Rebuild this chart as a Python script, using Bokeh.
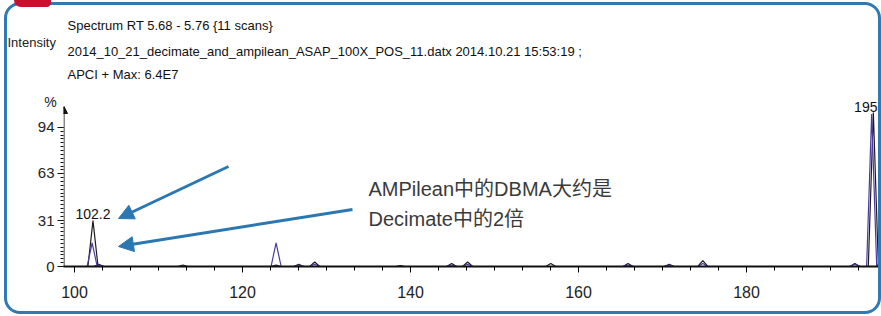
from bokeh.plotting import figure
from bokeh.models import (Label, Arrow, NormalHead, Range1d,
                          SingleIntervalTicker, FixedTicker)
from bokeh.embed import file_html
from bokeh.resources import INLINE

# ---------------- data ----------------
# AMPilean trace (black)
amp_mz = [102.2, 102.9, 112.9, 124.0, 126.7, 128.6, 138.8, 144.9, 146.8, 156.7, 165.9, 170.8, 174.8, 192.9, 195.1]
amp_int = [31.0, 1.5, 1.0, 1.0, 1.5, 3.0, 0.6, 2.0, 3.0, 2.0, 2.0, 1.5, 4.0, 2.0, 104.0]
# Decimate trace (purple)
dec_mz = [102.1, 102.9, 124.0, 126.7, 128.6, 144.9, 146.8, 165.9, 170.8, 174.8, 192.9, 194.9, 196.2]
dec_int = [16.0, 1.0, 16.0, 1.0, 1.5, 1.0, 1.5, 1.0, 1.0, 2.0, 1.5, 103.0, 12.0]
# labelled peaks
lab_mz = [102.2, 195.1]
lab_int = [31.0, 104.0]
lab_txt = ["102.2", "195."]
# y tick labels
y_ticks = [0, 31, 63, 94]

header = ["Spectrum RT 5.68 - 5.76 {11 scans}",
          "2014_10_21_decimate_and_ampilean_ASAP_100X_POS_11.datx 2014.10.21 15:53:19 ;",
          "APCI + Max: 6.4E7"]
note = ["AMPilean中的DBMA大约是", "Decimate中的2倍"]

# ---------------- layout helpers ----------------
FL, FT, FB = 63, 92, 266          # frame left / top / bottom in page px
def X2v(X):
    return 100 + (X - 74) / 8.4

def Y2p(Y):
    return (FB - Y) / 1.48

SANS = "Liberation Sans, Arial, sans-serif"
CJK = "Liberation Sans, Arial, Noto Sans CJK SC, sans-serif"
INK = "#111111"

x0, x1 = X2v(FL), X2v(881)
p = figure(width=881, height=316, output_backend="svg", toolbar_location=None,
           x_range=Range1d(x0, x1), y_range=Range1d(0, Y2p(FT)),
           min_border_left=FL, min_border_right=0, min_border_top=FT, min_border_bottom=316 - FB)
p.grid.visible = False
p.outline_line_color = None
p.background_fill_color = "white"
p.border_fill_color = "white"
p.stylesheets = ["""
:host::after { content: ""; position: absolute; left: 4px; top: 2px; width: 877px; height: 312px;
  box-sizing: border-box; border: 3px solid #2f79b5; border-radius: 16px; pointer-events: none; }
:host::before { content: ""; position: absolute; left: 14px; top: 0px; width: 37px; height: 7px;
  background: #c8102e; border-radius: 0 0 6px 10px; z-index: 2; pointer-events: none; }
"""]

def profile(mz, inten, hw=0.6):
    xs, ys = [x0], [0]
    for m, h in sorted(zip(mz, inten)):
        xs += [m - hw, m, m + hw]
        ys += [0, h, 0]
    xs.append(x1)
    ys.append(0)
    return xs, ys

ax, ay = profile(amp_mz, amp_int)
dx, dy = profile(dec_mz, dec_int)
p.line(ax, ay, line_color="#1c1c1c", line_width=1.2)
p.line(dx, dy, line_color="#4a3aa0", line_width=1.2)

# axes
xa = p.xaxis[0]
xa.ticker = SingleIntervalTicker(interval=20, num_minor_ticks=6)
xa.axis_line_width = 2
xa.axis_line_color = INK
xa.major_tick_out = 6
xa.major_tick_in = 0
xa.minor_tick_out = 4
xa.minor_tick_in = 0
xa.major_label_standoff = 13
xa.major_label_text_font = SANS
xa.major_label_text_font_size = "16px"
xa.major_label_text_color = "#222222"

ya = p.yaxis[0]
ya.ticker = FixedTicker(ticks=y_ticks, minor_ticks=[i * 94 / 36 for i in range(37)])
ya.axis_line_color = None          # drawn below as an arrow that stops at the arrow head
ya.major_tick_line_color = INK
ya.minor_tick_line_color = INK
ya.major_tick_out = 6
ya.major_tick_in = 0
ya.minor_tick_out = 3
ya.minor_tick_in = 0
ya.major_label_standoff = 3
ya.major_label_text_font = SANS
ya.major_label_text_font_size = "15px"
ya.major_label_text_color = "#222222"

# y axis line with arrow head
p.add_layout(Arrow(x_start=X2v(FL + 0.5), y_start=0, x_end=X2v(FL + 0.5), y_end=Y2p(106),
                   line_color=INK, line_width=1,
                   end=NormalHead(size=7, fill_color=INK, line_color=INK)))

# peak labels (inside the frame)
for m, h, t in zip(lab_mz, lab_int, lab_txt):
    if m > 190:
        lab = Label(x=m, y=h, text=t, y_offset=1, x_offset=8, text_align="right", text_baseline="bottom",
                    text_font=SANS, text_font_size="14px", text_color=INK)
    else:
        lab = Label(x=m, y=h, text=t, y_offset=2, text_align="center", text_baseline="bottom",
                    text_font=SANS, text_font_size="14px", text_color=INK)
    p.add_layout(lab)

# texts above / left of the frame: in the side panel so they are not clipped,
# positioned in data units (absolute through the plot scales)
def outer_label(text, X, Yc, size="13px", color=INK, align="left"):
    p.add_layout(Label(x=X2v(X), y=Y2p(Yc), text=text, text_align=align, text_baseline="middle",
                       text_font=SANS, text_font_size=size, text_color=color), "above")

outer_label("Intensity", 7, 42, color="#222222")
for t, Yc in zip(header, [25, 51, 74]):
    outer_label(t, 67, Yc)
outer_label("%", 50, 101, size="14px", color="#222222", align="center")

# annotation text and arrows
for t, Yc in zip(note, [188, 218]):
    p.add_layout(Label(x=X2v(368), y=Y2p(Yc), text=t, text_baseline="middle",
                       text_font=CJK, text_font_size="20px", text_color="#3a3a3a"))
BLUE = "#2b77b1"
for (sx, sy, ex, ey) in [(228, 166, 118, 218), (352, 209, 118, 246)]:
    p.add_layout(Arrow(x_start=X2v(sx), y_start=Y2p(sy), x_end=X2v(ex), y_end=Y2p(ey),
                       line_color=BLUE, line_width=3,
                       end=NormalHead(size=15, fill_color=BLUE, line_color=BLUE)))

open("out.html", "w").write(file_html(p, INLINE))
